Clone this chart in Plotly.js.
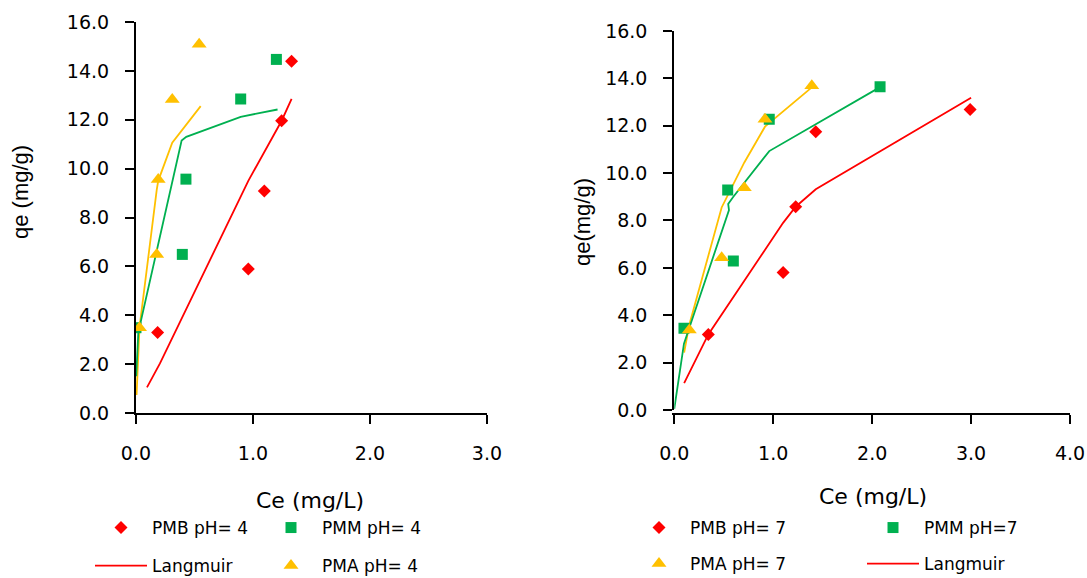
<!DOCTYPE html>
<html>
<head>
<meta charset="utf-8">
<script src="https://cdn.plot.ly/plotly-3.0.1.min.js"></script>
<style>html,body{margin:0;padding:0;background:#fff;}#chart{width:1087px;height:578px;}</style>
</head>
<body>
<div id="chart"></div>
<script>
// ---- pH 4 (left panel) ----
var pmb4_ce = [0.185, 0.96, 1.097, 1.245, 1.33];
var pmb4_qe = [3.29, 5.89, 9.08, 11.96, 14.39];
var pmm4_ce = [0.0, 0.396, 0.427, 0.895, 1.20];
var pmm4_qe = [3.49, 6.49, 9.57, 12.85, 14.47];
var pma4_ce = [0.03, 0.177, 0.19, 0.31, 0.54];
var pma4_qe = [3.49, 6.49, 9.56, 12.83, 15.09];
var lang_pmb4_ce = [0.094, 0.205, 0.96, 1.245, 1.33];
var lang_pmb4_qe = [1.05, 2.03, 9.5, 11.96, 12.85];
var lang_pmm4_ce = [0.002, 0.02, 0.39, 0.43, 0.895, 1.21];
var lang_pmm4_qe = [1.5, 3.3, 11.15, 11.3, 12.12, 12.42];
var lang_pma4_ce = [0.005, 0.03, 0.177, 0.19, 0.31, 0.553];
var lang_pma4_qe = [0.74, 3.5, 9.12, 9.5, 11.06, 12.56];

// ---- pH 7 (right panel) ----
var pmb7_ce = [0.344, 1.10, 1.227, 1.43, 2.99];
var pmb7_qe = [3.19, 5.8, 8.58, 11.75, 12.69];
var pmm7_ce = [0.098, 0.54, 0.597, 0.96, 2.08];
var pmm7_qe = [3.45, 9.29, 6.29, 12.27, 13.65];
var pma7_ce = [0.152, 0.479, 0.708, 0.917, 1.39];
var pma7_qe = [3.38, 6.43, 9.38, 12.27, 13.69];
var lang_pmb7_ce = [0.10, 0.344, 1.10, 1.227, 1.43, 3.0];
var lang_pmb7_qe = [1.13, 3.19, 7.9, 8.58, 9.32, 13.18];
var lang_pmm7_ce = [0.0, 0.098, 0.553, 0.545, 0.597, 0.96, 2.08];
var lang_pmm7_qe = [0.05, 2.8, 8.44, 8.7, 9.0, 10.93, 13.63];
var lang_pma7_ce = [0.10, 0.152, 0.479, 0.708, 0.917, 1.39];
var lang_pma7_qe = [2.42, 3.6, 8.55, 10.45, 11.96, 13.62];

var yTicks = [0, 2, 4, 6, 8, 10, 12, 14, 16];
var xTicksLeft = [0, 1, 2, 3];
var xTicksRight = [0, 1, 2, 3, 4];

var RED = '#FF0000', GREEN = '#00B050', YEL = '#FFC000';
var LW = 1.8;

function mk(x, y, name, sym, size, color, xa, ya, leg, show) {
  return {x: x, y: y, name: name, type: 'scatter', mode: 'markers',
    marker: {symbol: sym, size: size, color: color},
    xaxis: xa, yaxis: ya, legend: leg, showlegend: show, hoverinfo: 'x+y'};
}
function ln(x, y, name, color, xa, ya, leg, show) {
  return {x: x, y: y, name: name, type: 'scatter', mode: 'lines',
    line: {color: color, width: LW},
    xaxis: xa, yaxis: ya, legend: leg, showlegend: show, hoverinfo: 'x+y'};
}

var traces = [
  ln(lang_pma4_ce, lang_pma4_qe, 'Langmuir', YEL, 'x', 'y', 'legend', false),
  ln(lang_pmm4_ce, lang_pmm4_qe, 'Langmuir', GREEN, 'x', 'y', 'legend', false),
  ln(lang_pmb4_ce, lang_pmb4_qe, 'Langmuir', RED, 'x', 'y', 'legend3', true),
  mk(pmb4_ce, pmb4_qe, 'PMB pH= 4', 'diamond', 10, RED, 'x', 'y', 'legend', true),
  mk(pmm4_ce, pmm4_qe, 'PMM pH= 4', 'square', 11, GREEN, 'x', 'y', 'legend2', true),
  mk(pma4_ce, pma4_qe, 'PMA pH= 4', 'triangle-up', 13, YEL, 'x', 'y', 'legend4', true),

  ln(lang_pma7_ce, lang_pma7_qe, 'Langmuir', YEL, 'x2', 'y2', 'legend', false),
  ln(lang_pmm7_ce, lang_pmm7_qe, 'Langmuir', GREEN, 'x2', 'y2', 'legend', false),
  ln(lang_pmb7_ce, lang_pmb7_qe, 'Langmuir', RED, 'x2', 'y2', 'legend8', true),
  mk(pmb7_ce, pmb7_qe, 'PMB pH= 7', 'diamond', 10, RED, 'x2', 'y2', 'legend5', true),
  mk(pmm7_ce, pmm7_qe, 'PMM pH=7', 'square', 11, GREEN, 'x2', 'y2', 'legend6', true),
  mk(pma7_ce, pma7_qe, 'PMA pH= 7', 'triangle-up', 13, YEL, 'x2', 'y2', 'legend7', true)
];

var tickFont = {family: 'DejaVu Sans', size: 19, color: '#000'};
var legFont = {family: 'DejaVu Sans', size: 17, color: '#000'};
var titleFont = {family: 'DejaVu Sans', size: 22, color: '#000'};

function xax(dom, rng, tv) {
  return {domain: dom, range: rng, tickvals: tv, ticktext: tv.map(function(v){return v.toFixed(1);}),
    showgrid: false, zeroline: false, showline: true, linecolor: '#000', linewidth: 2,
    ticks: 'outside', ticklen: 9, tickwidth: 2, tickcolor: '#000', tickfont: tickFont,
    ticklabelstandoff: 13, fixedrange: true};
}
function yax(dom, anchor) {
  return {domain: dom, range: [0, 16], tickvals: yTicks, ticktext: yTicks.map(function(v){return v.toFixed(1);}),
    showgrid: false, zeroline: false, showline: true, linecolor: '#000', linewidth: 2,
    ticks: 'outside', ticklen: 9, tickwidth: 2, tickcolor: '#000', tickfont: tickFont,
    ticklabelstandoff: 12, anchor: anchor, fixedrange: true};
}
function leg(x, y) {
  return {x: x, y: y, xanchor: 'left', yanchor: 'middle', font: legFont, bgcolor: 'rgba(0,0,0,0)',
    itemwidth: 52, borderwidth: 0, tracegroupgap: 0, itemclick: false, itemdoubleclick: false};
}
var W = 1087, H = 578;
function px(v){return v / W;}
function py(v){return 1 - v / H;}
var LOFF = 31, YOFF = 0;

var layout = {
  width: W, height: H, margin: {l: 0, r: 0, t: 0, b: 0, autoexpand: false},
  paper_bgcolor: '#fff', plot_bgcolor: '#fff', showlegend: true,
  xaxis: xax([0.1251, 0.4480], [0, 3], xTicksLeft),
  yaxis: yax([0.2855, 0.9619], 'x'),
  xaxis2: xax([0.6203, 0.9844], [0, 4], xTicksRight),
  yaxis2: yax([0.2907, 0.9464], 'x2'),
  legend: leg(px(121 - LOFF), py(528 + YOFF)),
  legend2: leg(px(291 - LOFF), py(528 + YOFF)),
  legend3: leg(px(121 - LOFF), py(566 + YOFF)),
  legend4: leg(px(291 - LOFF), py(566 + YOFF)),
  legend5: leg(px(659 - LOFF), py(528 + YOFF)),
  legend6: leg(px(893 - LOFF), py(528 + YOFF)),
  legend7: leg(px(659 - LOFF), py(564 + YOFF)),
  legend8: leg(px(893 - LOFF), py(564 + YOFF)),
  annotations: [
    {text: 'qe (mg/g)', xref: 'paper', yref: 'paper', x: px(20), y: py(192), textangle: -90,
     showarrow: false, font: {family: 'Liberation Sans', size: 22, color: '#000'}, xanchor: 'center', yanchor: 'middle'},
    {text: 'Ce (mg/L)', xref: 'paper', yref: 'paper', x: px(310), y: py(500),
     showarrow: false, font: titleFont, xanchor: 'center', yanchor: 'middle'},
    {text: 'qe(mg/g)', xref: 'paper', yref: 'paper', x: px(582), y: py(222), textangle: -90,
     showarrow: false, font: {family: 'Liberation Sans', size: 22, color: '#000'}, xanchor: 'center', yanchor: 'middle'},
    {text: 'Ce (mg/L)', xref: 'paper', yref: 'paper', x: px(873), y: py(496),
     showarrow: false, font: titleFont, xanchor: 'center', yanchor: 'middle'}
  ]
};

Plotly.newPlot('chart', traces, layout, {displayModeBar: false, staticPlot: true});
</script>
</body>
</html>
